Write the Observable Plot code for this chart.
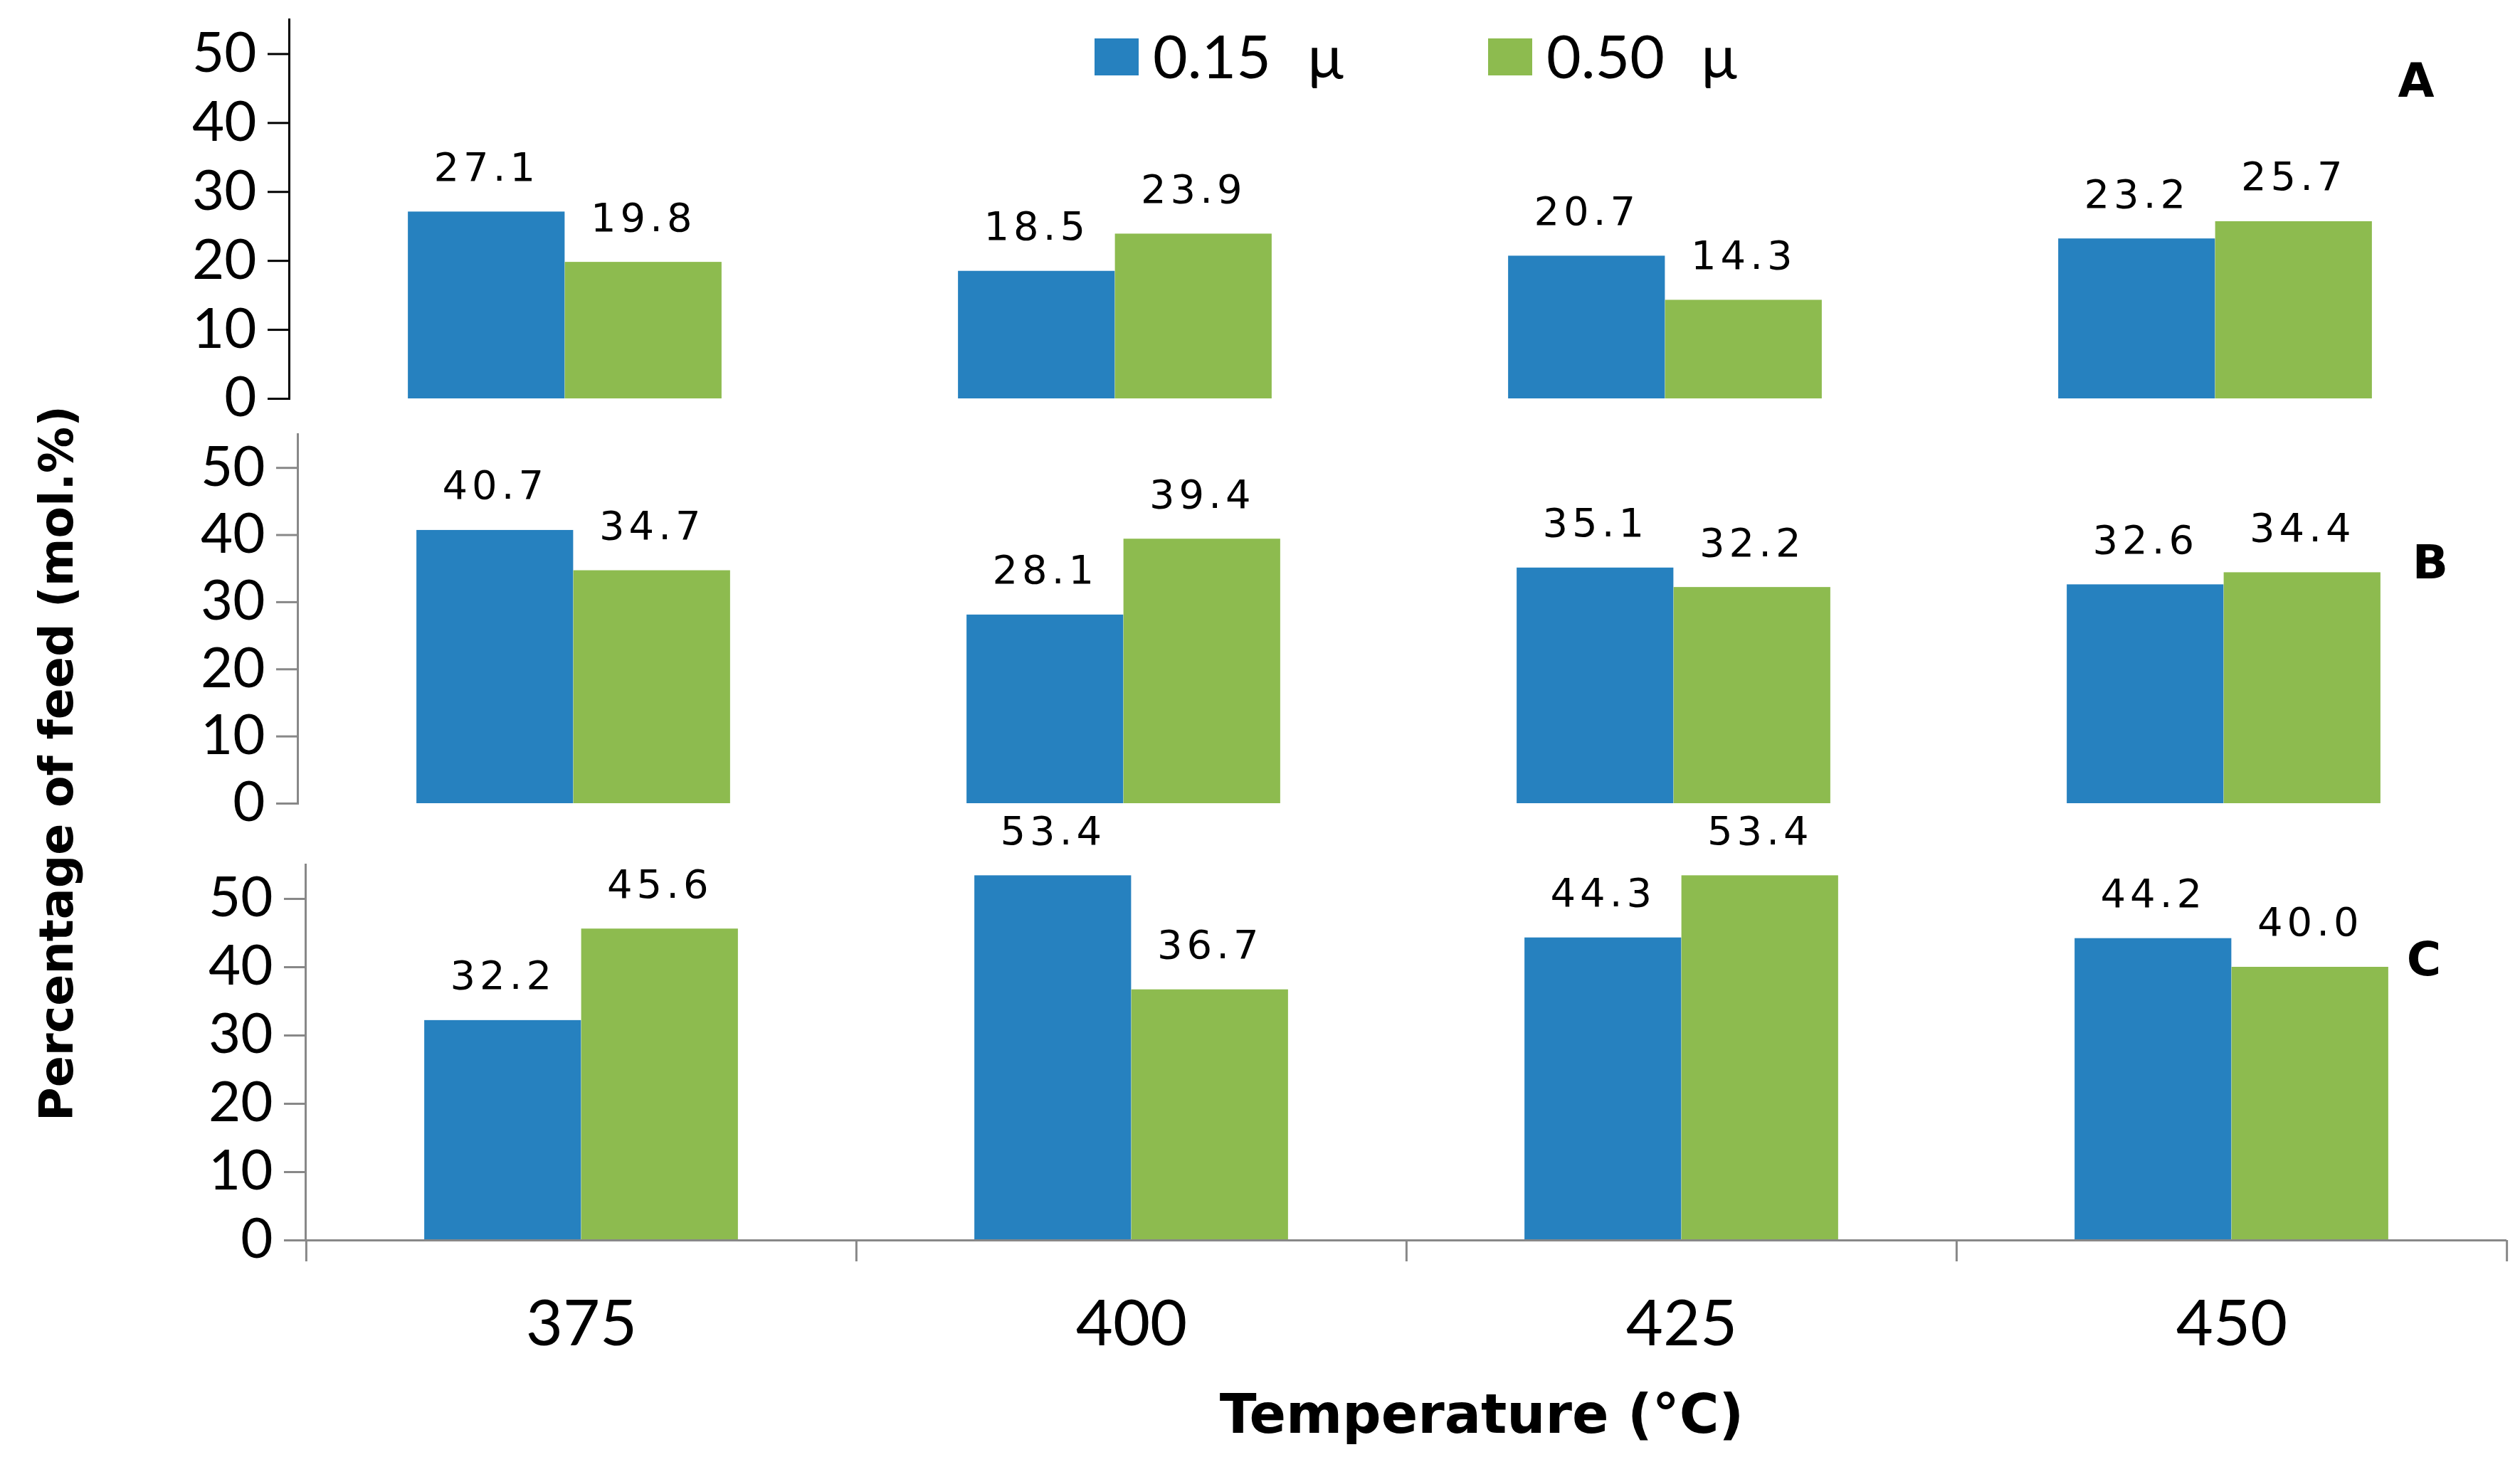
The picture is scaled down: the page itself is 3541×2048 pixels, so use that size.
<!DOCTYPE html>
<html>
<head>
<meta charset="utf-8">
<script src="https://cdn.jsdelivr.net/npm/d3@7"></script>
<script src="https://cdn.jsdelivr.net/npm/@observablehq/plot@0.6"></script>
<style>
  body { margin: 0; background: white; }
  #chart { position: relative; width: 3541px; height: 2048px; overflow: hidden; background: white; }
  #chart svg { position: absolute; left: 0; }
  #chart g[aria-label="text"] text { letter-spacing: 6px; }
  .lbl { position: absolute; white-space: nowrap; color: #000; }
  .legend-item { position: absolute; display: flex; align-items: center; }
</style>
</head>
<body>
<div id="chart"></div>
<script>
// data
const temps = [375, 400, 425, 450];
const seriesNames = ["0.15 μ", "0.50 μ"];
const seriesColors = ["#2681bf", "#8dbb4f"];
const yTicks = [0, 10, 20, 30, 40, 50];
const panelNames = ["A", "B", "C"];

const panelA015 = [27.1, 18.5, 20.7, 23.2];
const panelA050 = [19.8, 23.9, 14.3, 25.7];
const panelB015 = [40.7, 28.1, 35.1, 32.6];
const panelB050 = [34.7, 39.4, 32.2, 34.4];
const panelC015 = [32.2, 53.4, 44.3, 44.2];
const panelC050 = [45.6, 36.7, 53.4, 40.0];

const panelValues = [
    [panelA015, panelA050],
    [panelB015, panelB050],
    [panelC015, panelC050]
];

// layout (pixels)
const W = 3541;
const frameWidth = 3093;
const step = frameWidth / temps.length;
const barW = 220.5;
const outerGap = step / 2 - barW;

const layouts = [
    { top: 0, height: 610, marginLeft: 406, marginTop: 27, marginBottom: 50, axisColor: "#000", label: [3395, 113] },
    { top: 560, height: 620, marginLeft: 418, marginTop: 50, marginBottom: 51, axisColor: "#888", label: [3415, 790] },
    { top: 1100, height: 830, marginLeft: 429, marginTop: 115, marginBottom: 187, axisColor: "#888", label: [3406, 1348] }
];

const chartEl = document.getElementById("chart");

const drawPanel = (p) => {
    const lay = layouts[p];
    const rows = temps.flatMap((t, i) => seriesNames.map((s, j) => ({
        temp: t, series: s, value: panelValues[p][j][i]
    })));
    const isLast = p === panelNames.length - 1;

    const marks = [];
    seriesNames.forEach((s, j) => {
        const sub = rows.filter(d => d.series === s);
        marks.push(Plot.barY(sub, {
            x: "temp", y: "value", fill: seriesColors[j],
            insetLeft: j === 0 ? outerGap : step / 2,
            insetRight: j === 0 ? step / 2 : outerGap
        }));
        marks.push(Plot.text(sub, {
            x: "temp", y: "value", text: d => d.value.toFixed(1),
            dx: j === 0 ? -barW / 2 : barW / 2, dy: -62,
            lineAnchor: "middle", fontFamily: "DejaVu Sans", fontSize: 56, fill: "#000"
        }));
    });
    marks.push(Plot.frame({ anchor: "left", stroke: lay.axisColor, strokeWidth: 3 }));
    marks.push(Plot.axisY({
        ticks: yTicks, tickSize: 30, tickPadding: 16, stroke: lay.axisColor, strokeWidth: 3,
        fill: "#000", fontSize: 78, fontFamily: "Lato", label: null
    }));
    if (isLast) {
        marks.push(Plot.ruleY([0], { stroke: lay.axisColor, strokeWidth: 3 }));
        // tick marks sit on the group boundaries
        marks.push(Plot.ruleX(temps, {
            x: d => d, dx: -step / 2, y1: 0, y2: 0, insetBottom: -30,
            stroke: lay.axisColor, strokeWidth: 3
        }));
        marks.push(Plot.ruleX(temps.slice(-1), {
            x: d => d, dx: step / 2, y1: 0, y2: 0, insetBottom: -30,
            stroke: lay.axisColor, strokeWidth: 3
        }));
        marks.push(Plot.axisX({ tickSize: 0, tickPadding: 84, fontSize: 90, fontFamily: "Lato", fill: "#000", label: null }));
    }

    const chart = Plot.plot({
        width: W,
        height: lay.height,
        marginLeft: lay.marginLeft,
        marginRight: W - lay.marginLeft - frameWidth,
        marginTop: lay.marginTop,
        marginBottom: lay.marginBottom,
        style: { background: "transparent", fontFamily: "Lato", overflow: "visible" },
        x: { type: "band", domain: temps, padding: 0, axis: null, label: null },
        y: { domain: [0, 55], axis: null, label: null },
        marks
    });
    chart.style.top = lay.top + "px";
    chartEl.append(chart);

    const letter = document.createElement("div");
    letter.className = "lbl";
    letter.textContent = panelNames[p];
    Object.assign(letter.style, {
        left: lay.label[0] + "px", top: lay.label[1] + "px", transform: "translate(-50%, -50%)",
        font: "bold 66px 'DejaVu Sans'"
    });
    chartEl.append(letter);
};

panelNames.forEach((_, p) => drawPanel(p));

// legend
const legendX = [1538, 2091];
seriesNames.forEach((s, j) => {
    const item = document.createElement("div");
    item.className = "legend-item";
    Object.assign(item.style, { left: legendX[j] + "px", top: "40px", height: "76px" });
    const sw = document.createElement("span");
    Object.assign(sw.style, { width: "62px", height: "52px", background: seriesColors[j], display: "inline-block", marginRight: "20px", marginTop: "4px" });
    const tx = document.createElement("span");
    tx.textContent = s;
    Object.assign(tx.style, { font: "84px Lato", lineHeight: "76px", wordSpacing: "30px" });
    item.append(sw, tx);
    chartEl.append(item);
});

// axis titles
const yTitle = document.createElement("div");
yTitle.className = "lbl";
yTitle.textContent = "Percentage of feed (mol.%)";
Object.assign(yTitle.style, {
    left: "79px", top: "1073px", transform: "translate(-50%, -50%) rotate(-90deg)",
    font: "bold 65px 'DejaVu Sans'"
});
chartEl.append(yTitle);

const xTitle = document.createElement("div");
xTitle.className = "lbl";
xTitle.textContent = "Temperature (°C)";
Object.assign(xTitle.style, {
    left: "2082px", top: "1987px", transform: "translate(-50%, -50%)",
    font: "bold 76px 'DejaVu Sans'"
});
chartEl.append(xTitle);
</script>
</body>
</html>
